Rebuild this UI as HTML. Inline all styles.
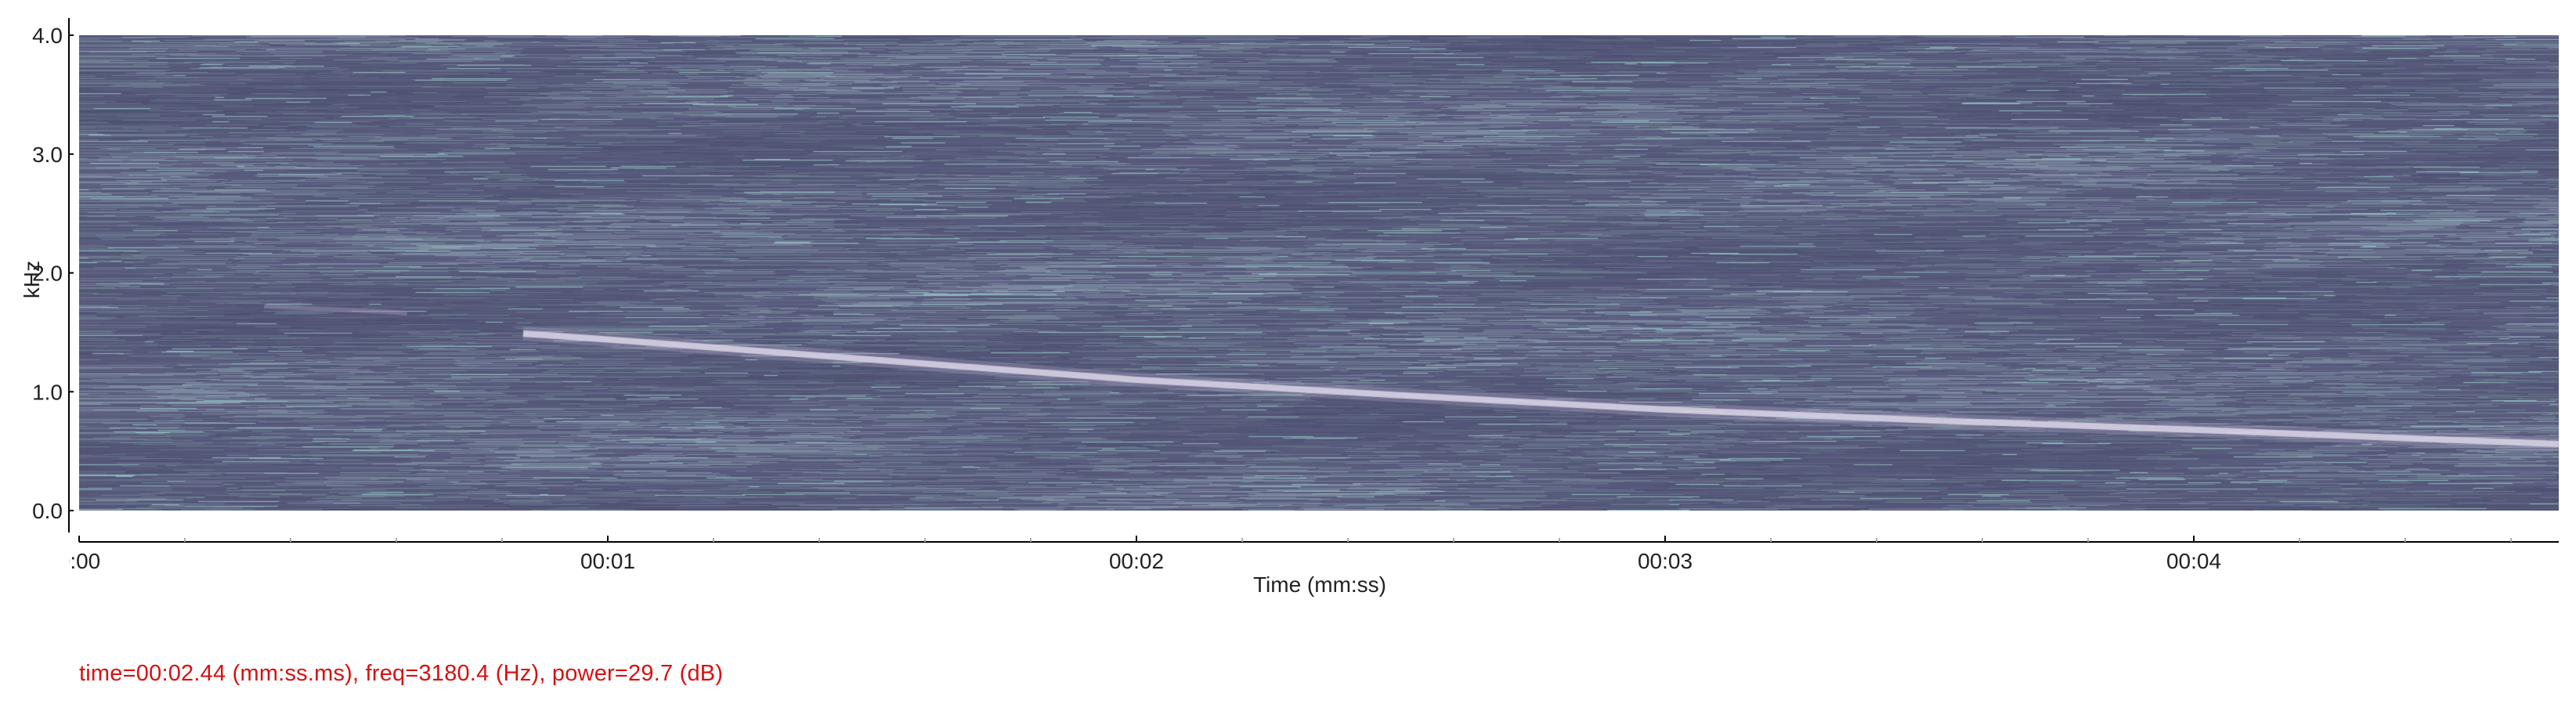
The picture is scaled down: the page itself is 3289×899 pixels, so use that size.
<!DOCTYPE html>
<html><head><meta charset="utf-8">
<style>
html,body{margin:0;padding:0;background:#fff;}
body{width:3289px;height:899px;position:relative;overflow:hidden;font-family:"Liberation Sans",sans-serif;}
#spec{position:absolute;left:101px;top:45px;}
svg{position:absolute;left:0;top:0;}
</style></head>
<body>
<canvas id="spec" width="3166" height="607"></canvas>
<svg width="3289" height="899" id="axes"></svg>
<script>
// data
const trackTimes = [0.84, 1.0, 1.5, 2.0, 2.5, 3.0, 3.5, 4.0, 4.4, 4.69];
const trackFreqs = [1.49, 1.44, 1.27, 1.10, 0.97, 0.85, 0.76, 0.68, 0.61, 0.56];
const faintTimes = [0.35, 0.45, 0.55, 0.62];
const faintFreqs = [1.72, 1.70, 1.68, 1.66];
const xTickVals = [0, 1, 2, 3, 4];
const xTickLabels = ["0:00", "00:01", "00:02", "00:03", "00:04"];
const yTickVals = [0, 1, 2, 3, 4];
const yTickLabels = ["0.0", "1.0", "2.0", "3.0", "4.0"];

const PL = 101, PR = 3267, PT = 45, PB = 652;
const tMax = (PR - PL) / 675;
const xs = t => PL + t / tMax * (PR - PL);
const ys = f => PB - f / 4 * (PB - PT);

// noise texture (seeded)
let seed = 12345;
function rnd(){seed=(seed*1664525+1013904223)>>>0;return seed/4294967296;}
const cv = document.getElementById('spec');
const ctx = cv.getContext('2d');
const W = cv.width, H = cv.height;
ctx.fillStyle = '#585d80'; ctx.fillRect(0,0,W,H);
const ph1 = rnd()*6, ph2 = rnd()*6;
for (let y = 0; y < H; y++) {
  let x = 0;
  const rowBase = rnd();
  while (x < W) {
    const len = 10 + rnd()*110;
    const r = rnd();
    let c;
    const blob = 0.5 + 0.25*Math.sin(x/190 + y/23 + ph1) + 0.25*Math.sin(x/410 - y/41 + ph2);
    if (r < 0.03) c = 'rgb(140,180,185)';
    else if (r < 0.12 + blob*0.35) { const v = 92 + blob*28 + rnd()*10; c = `rgb(${v|0},${(v+14)|0},${(v+36)|0})`; }
    else { const v = 76 + rnd()*16 + blob*8; c = `rgb(${v|0},${(v+3)|0},${(v+36)|0})`; }
    ctx.fillStyle = c;
    ctx.fillRect(x, y, len, 1);
    x += len;
  }
}
function drawTrack(ts, fs, color, width, alpha){
  ctx.save(); ctx.globalAlpha = alpha; ctx.strokeStyle = color; ctx.lineWidth = width; ctx.lineCap='butt';
  ctx.beginPath();
  ts.forEach((t,i)=>{const X=xs(t)-PL, Y=ys(fs[i])-PT; i?ctx.lineTo(X,Y):ctx.moveTo(X,Y);});
  ctx.stroke(); ctx.restore();
}
drawTrack(faintTimes, faintFreqs, '#9a8fb0', 6, 0.5);
drawTrack(trackTimes, trackFreqs, '#a8a0c0', 18, 0.35);
drawTrack(trackTimes, trackFreqs, '#dcd6e8', 8, 0.85);

// axes
const svg = document.getElementById('axes');
const NS = 'http://www.w3.org/2000/svg';
function el(tag, attrs, parent){const e=document.createElementNS(NS,tag);for(const k in attrs)e.setAttribute(k,attrs[k]);(parent||svg).appendChild(e);return e;}
const defs = el('defs',{});
const cp = el('clipPath',{id:'xclip'},defs);
el('rect',{x:88,y:690,width:3200,height:60},cp);
let l = el('line',{x1:88,y1:23,x2:88,y2:680,stroke:'#000','stroke-width':2});


l = el('line',{x1:101,y1:692,x2:3267,y2:692,stroke:'#000','stroke-width':2});


yTickVals.forEach((v,i)=>{
  const y = ys(v);
  const t = el('line',{x1:88,y1:y,x2:94,y2:y,stroke:'#000','stroke-width':2});
  
  
  const tx = el('text',{x:80,y:y+10,'text-anchor':'end','font-size':28,fill:'#222'});
  tx.textContent = yTickLabels[i];
  
  
});
for (let t = 0; t <= tMax; t += 0.2) {
  const x = xs(t);
  const major = Math.abs(t - Math.round(t)) < 1e-6;
  const m = el('line',{x1:x,y1:major?684:687,x2:x,y2:692,stroke:major?'#000':'#aaa','stroke-width':2});
  
  
}
xTickVals.forEach((v,i)=>{
  const tx = el('text',{x:xs(v),y:726,'text-anchor':'middle','font-size':28,fill:'#222','clip-path':'url(#xclip)'});
  tx.textContent = xTickLabels[i];
  
  
});
let tt = el('text',{x:1685,y:756,'text-anchor':'middle','font-size':28,fill:'#222'});
tt.textContent = 'Time (mm:ss)';


tt = el('text',{x:0,y:0,'text-anchor':'middle','font-size':28,fill:'#222',transform:'translate(50,357) rotate(-90)'});
tt.textContent = 'kHz';


tt = el('text',{x:101,y:869,'font-size':29,fill:'#d81010',textLength:822});
tt.textContent = 'time=00:02.44 (mm:ss.ms), freq=3180.4 (Hz), power=29.7 (dB)';


</script>
</body></html>
